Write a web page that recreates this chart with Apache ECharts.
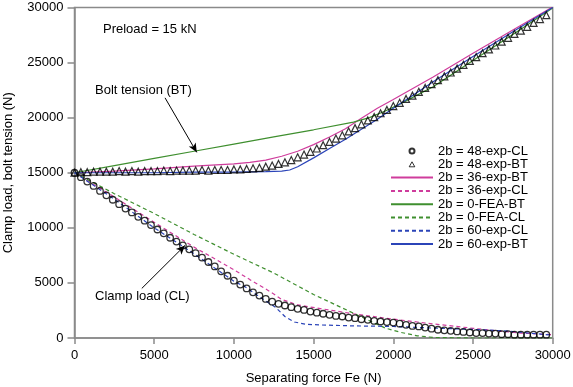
<!DOCTYPE html>
<html>
<head>
<meta charset="utf-8">
<script src="https://cdn.jsdelivr.net/npm/echarts@6/dist/echarts.min.js"></script>
<style>
html, body { margin: 0; padding: 0; background: #fff; }
#chart { width: 573px; height: 387px; }
</style>
</head>
<body>
<div id="chart"></div>
<script>
// separating force steps for the measured (marker) series, N
const forceSteps = [0, 400, 800, 1200, 1600, 2000, 2400, 2800, 3200, 3600, 4000, 4400, 4800, 5200, 5600,
  6000, 6400, 6800, 7200, 7600, 8000, 8400, 8800, 9200, 9600, 10000, 10400, 10800, 11200, 11600,
  12000, 12400, 12800, 13200, 13600, 14000, 14400, 14800, 15200, 15600, 16000, 16400, 16800, 17200, 17600,
  18000, 18400, 18800, 19200, 19600, 20000, 20400, 20800, 21200, 21600, 22000, 22400, 22800, 23200, 23600,
  24000, 24400, 24800, 25200, 25600, 26000, 26400, 26800, 27200, 27600, 28000, 28400, 28800, 29200, 29600]

// 2b = 48 exp, clamp load (circles)
const cl48 = [15000, 14600, 14200, 13800, 13350, 12950, 12550, 12150, 11750, 11400, 11000, 10650, 10250, 9850, 9500,
  9100, 8750, 8400, 8050, 7700, 7300, 6900, 6500, 6050, 5650, 5200, 4850, 4500, 4150, 3850,
  3550, 3300, 3100, 2950, 2800, 2650, 2550, 2400, 2300, 2200, 2100, 2000, 1950, 1850, 1800,
  1700, 1650, 1550, 1500, 1450, 1400, 1300, 1200, 1100, 1050, 950, 850, 750, 700, 650,
  600, 550, 500, 450, 450, 400, 400, 350, 350, 300, 300, 300, 300, 300, 300]

// 2b = 48 exp, bolt tension (triangles)
const bt48 = [15000, 15050, 15050, 15100, 15100, 15100, 15100, 15150, 15100, 15150, 15100, 15150, 15150, 15150, 15200,
  15150, 15200, 15200, 15200, 15200, 15250, 15200, 15250, 15250, 15250, 15300, 15300, 15350, 15400, 15450,
  15550, 15650, 15800, 15950, 16150, 16400, 16650, 16900, 17200, 17500, 17800, 18100, 18400, 18750, 19050,
  19400, 19750, 20050, 20400, 20700, 21050, 21350, 21700, 22000, 22350, 22700, 23050, 23400, 23750, 24100,
  24450, 24800, 25150, 25500, 25850, 26200, 26550, 26900, 27250, 27600, 27900, 28250, 28600, 28950, 29300]

// line series
const bt36X = [0, 2500, 5000, 7500, 10000, 11000, 12000, 13000, 14000, 15000, 16000, 17000, 18000, 19000, 20000, 22500, 25000, 27500, 30000]
const bt36Y = [15000, 15150, 15350, 15600, 15800, 15950, 16150, 16500, 16950, 17550, 18250, 19000, 19950, 20850, 21650, 23700, 25850, 27950, 30050]

const cl36X = [0, 2500, 5000, 7500, 10000, 11000, 12000, 12500, 13000, 14000, 15500, 17500, 19500, 21500, 23000, 25000, 26500, 28000, 30000]
const cl36Y = [15000, 12800, 10500, 8250, 6200, 5300, 4450, 4000, 3500, 3000, 2650, 2200, 1800, 1450, 1200, 880, 650, 450, 300]

const bt0X = [0, 2500, 5000, 7500, 10000, 12500, 15000, 17500, 18500, 19500, 20500, 22500, 25000, 27500, 30000]
const bt0Y = [15000, 15650, 16300, 16950, 17600, 18250, 18900, 19600, 20000, 20600, 21300, 22800, 25200, 27550, 29950]

const cl0X = [0, 2500, 5000, 7500, 10000, 12500, 15000, 17500, 19500, 20500, 21500, 22500, 25000, 27500, 30000]
const cl0Y = [15000, 13100, 11300, 9400, 7600, 5900, 3950, 2250, 900, 500, 200, 50, 0, 0, 0]

const cl60X = [0, 2500, 5000, 7500, 10000, 10700, 11700, 12600, 13200, 13800, 14500, 15500, 17500, 20000, 22500, 25000, 27000, 28500, 30000]
const cl60Y = [15000, 12600, 10000, 7650, 5150, 4650, 3650, 2800, 1950, 1450, 1250, 1180, 1100, 1050, 900, 780, 650, 450, 250]

const bt60X = [0, 2500, 5000, 7500, 10000, 12000, 13000, 13500, 14000, 15000, 16000, 17000, 18000, 19000, 20000, 21000, 22500, 25000, 27500, 30000]
const bt60Y = [15000, 15000, 15000, 15050, 15050, 15100, 15150, 15250, 15550, 16350, 17200, 18050, 18950, 19850, 20850, 21800, 23250, 25550, 27800, 30000]

const legendNames = ['2b = 48-exp-CL', '2b = 48-exp-BT', '2b = 36-exp-BT', '2b = 36-exp-CL',
  '2b = 0-FEA-BT', '2b = 0-FEA-CL', '2b = 60-exp-CL', '2b = 60-exp-BT']

const MAGENTA = '#cf3c9c'
const GREEN = '#3f8f2f'
const BLUE = '#2b44b8'
const AXIS = '#8a8a8a'
const FONT = 'Liberation Sans, Arial, sans-serif'

// small triangle centred in a 42x5 legend box
const TRIANGLE_ICON = 'path://M0,0L0,0M42,5L42,5M21,0L23.8,5L18.2,5Z'

function pairs (xs, ys) {
  return xs.map((x, i) => [x, ys[i]])
}

function lineSeries (name, xs, ys, color, dashed) {
  return {
    name: name,
    type: 'line',
    data: pairs(xs, ys),
    symbol: 'none',
    smooth: false,
    color: color,
    lineStyle: { width: 1.2, color: color, type: dashed ? [4, 3] : 'solid' },
    z: 2
  }
}

function legendItem (name) {
  if (name === '2b = 48-exp-CL') return { name: name }
  if (name === '2b = 48-exp-BT') {
    return { name: name, icon: TRIANGLE_ICON, itemStyle: { color: 'rgba(255,255,255,0)', borderColor: '#000', borderWidth: 1 } }
  }
  // hide the dot that line legends draw in the middle
  return { name: name, itemStyle: { opacity: 0 } }
}

const chart = echarts.init(document.getElementById('chart'))
const bt0 = lineSeries('2b = 0-FEA-BT', bt0X, bt0Y, GREEN, false)
// annotation arrows
bt0.markLine = {
  silent: true,
  symbol: ['none', 'arrow'],
  symbolSize: [6, 9],
  label: { show: false },
  lineStyle: { color: '#000', width: 1, type: 'solid' },
  data: [
    [{ coord: [5680, 21800] }, { coord: [7670, 16850] }],
    [{ coord: [4220, 4500] }, { coord: [6930, 8400] }]
  ]
}

const option = {
  animation: false,
  textStyle: { fontFamily: FONT },
  grid: {
    left: 74.5, right: 20.3, top: 7.5, bottom: 49,
    containLabel: false,
    outerBoundsMode: 'none',
    show: true, borderColor: AXIS, borderWidth: 1.5
  },
  xAxis: {
    type: 'value',
    min: 0,
    max: 30000,
    interval: 5000,
    name: 'Separating force Fe (N)',
    nameLocation: 'middle',
    nameGap: 34,
    nameTextStyle: { fontSize: 13, color: '#000', fontFamily: FONT },
    axisLine: { lineStyle: { color: AXIS, width: 1.5 } },
    axisTick: { length: 6, lineStyle: { color: AXIS, width: 1.5 } },
    axisLabel: { fontSize: 13, color: '#000', margin: 11, fontFamily: FONT, formatter: v => String(v) },
    splitLine: { show: false }
  },
  yAxis: {
    type: 'value',
    min: 0,
    max: 30000,
    interval: 5000,
    name: 'Clamp load, bolt tension (N)',
    nameLocation: 'middle',
    nameGap: 60,
    nameTextStyle: { fontSize: 13, color: '#000', fontFamily: FONT },
    axisLine: { lineStyle: { color: AXIS, width: 1.5 } },
    axisTick: { length: 7, lineStyle: { color: AXIS, width: 1.5 } },
    axisLabel: { fontSize: 13, color: '#000', margin: 11, fontFamily: FONT, formatter: v => String(v) },
    splitLine: { show: false }
  },
  legend: {
    orient: 'vertical',
    left: 385,
    top: 139.5,
    itemWidth: 42,
    itemHeight: 5,
    itemGap: 0.3,
    data: legendNames.map(legendItem),
    textStyle: { fontSize: 13, color: '#000', lineHeight: 13, fontFamily: FONT }
  },
  graphic: [
    { type: 'text', left: 103, top: 22.5, style: { text: 'Preload = 15 kN', font: '13px ' + FONT, fill: '#000' } },
    { type: 'text', left: 95, top: 83.5, style: { text: 'Bolt tension (BT)', font: '13px ' + FONT, fill: '#000' } },
    { type: 'text', left: 95, top: 289.5, style: { text: 'Clamp load (CL)', font: '13px ' + FONT, fill: '#000' } }
  ],
  series: [
    lineSeries('2b = 36-exp-BT', bt36X, bt36Y, MAGENTA, false),
    lineSeries('2b = 36-exp-CL', cl36X, cl36Y, MAGENTA, true),
    bt0,
    lineSeries('2b = 0-FEA-CL', cl0X, cl0Y, GREEN, true),
    lineSeries('2b = 60-exp-CL', cl60X, cl60Y, BLUE, true),
    lineSeries('2b = 60-exp-BT', bt60X, bt60Y, BLUE, false),
    {
      name: '2b = 48-exp-CL',
      type: 'scatter',
      data: pairs(forceSteps, cl48),
      symbol: 'circle',
      symbolSize: 6.5,
      itemStyle: { color: 'rgba(255,255,255,0)', borderColor: '#000', borderWidth: 1.3 },
      z: 5
    },
    {
      name: '2b = 48-exp-BT',
      type: 'scatter',
      data: pairs(forceSteps, bt48),
      symbol: 'triangle',
      symbolSize: 7,
      itemStyle: { color: 'rgba(255,255,255,0)', borderColor: '#000', borderWidth: 1.2 },
      z: 5
    }
  ]
}
chart.setOption(option)
</script>
</body>
</html>
